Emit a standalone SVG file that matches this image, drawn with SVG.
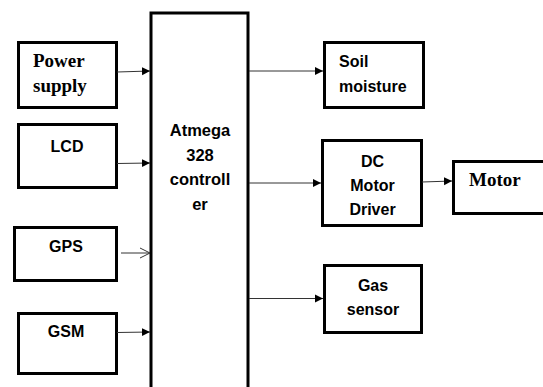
<svg xmlns="http://www.w3.org/2000/svg" width="543" height="387" viewBox="0 0 543 387">
<style>
.box{fill:#fff;stroke:#000;stroke-width:3}
.ln{stroke:#333;stroke-width:1;fill:none}
.sans{font-family:"Liberation Sans",Arial,sans-serif;font-weight:bold;font-size:16px;fill:#000}
.ctl{font-size:16.5px}
.serif{font-family:"Liberation Serif","Times New Roman",serif;font-weight:bold;font-size:19px;fill:#000}
.mid{text-anchor:middle}
</style>
<defs>
<marker id="ah" markerWidth="9" markerHeight="9" refX="8" refY="4.5" orient="auto" markerUnits="userSpaceOnUse">
<path d="M0,0.5 L8,4.5 L0,8.5 Z" fill="#000"/>
</marker>
<marker id="oa" markerWidth="12" markerHeight="12" refX="10" refY="6" orient="auto" markerUnits="userSpaceOnUse">
<path d="M0,1 L10,6 L0,11" fill="none" stroke="#333" stroke-width="1"/>
</marker>
</defs>
<g id="controller">
<path d="M151,387 V13 H248 V387" class="box"/>
<text class="sans ctl mid" x="200" y="136">Atmega</text>
<text class="sans ctl mid" x="200" y="160.5">328</text>
<text class="sans ctl mid" x="200" y="185">controll</text>
<text class="sans ctl mid" x="200" y="209.5">er</text>
</g>
<g id="power">
<rect class="box" x="18.5" y="42.5" width="98" height="65"/>
<text class="serif" x="33" y="67">Power</text>
<text class="serif" x="33" y="92">supply</text>
</g>
<g id="lcd">
<rect class="box" x="18.5" y="124.5" width="98" height="63"/>
<text class="sans mid" x="67" y="152">LCD</text>
</g>
<g id="gps">
<rect class="box" x="14.5" y="227.5" width="102" height="53"/>
<text class="sans mid" x="66" y="252">GPS</text>
</g>
<g id="gsm">
<rect class="box" x="18.5" y="313.5" width="98" height="60"/>
<text class="sans mid" x="66" y="337">GSM</text>
</g>
<g id="soil">
<rect class="box" x="324.5" y="42.5" width="99" height="65"/>
<text class="sans" x="339" y="67">Soil</text>
<text class="sans" x="339" y="92">moisture</text>
</g>
<g id="dcdriver">
<rect class="box" x="322.5" y="140.5" width="99" height="85"/>
<text class="sans mid" x="372.5" y="167">DC</text>
<text class="sans mid" x="372.5" y="191">Motor</text>
<text class="sans mid" x="372.5" y="215">Driver</text>
</g>
<g id="motor">
<rect class="box" x="453.5" y="161.5" width="95" height="52"/>
<text class="serif" x="469" y="186">Motor</text>
</g>
<g id="gas">
<rect class="box" x="324.5" y="265.5" width="97" height="67"/>
<text class="sans mid" x="373" y="291">Gas</text>
<text class="sans mid" x="373" y="315">sensor</text>
</g>
<g id="connectors">
<line class="ln" x1="117" y1="72" x2="150" y2="71" marker-end="url(#ah)"/>
<line class="ln" x1="117" y1="163.5" x2="150" y2="163" marker-end="url(#ah)"/>
<line class="ln" x1="121" y1="253" x2="150" y2="253" marker-end="url(#oa)"/>
<line class="ln" x1="117" y1="332.5" x2="150" y2="332" marker-end="url(#ah)"/>
<line class="ln" x1="249" y1="71" x2="323" y2="71" marker-end="url(#ah)"/>
<line class="ln" x1="249" y1="183" x2="321" y2="183" marker-end="url(#ah)"/>
<line class="ln" x1="422" y1="182" x2="452" y2="181" marker-end="url(#ah)"/>
<line class="ln" x1="249" y1="298.5" x2="323" y2="298.5" marker-end="url(#ah)"/>
</g>
</svg>
